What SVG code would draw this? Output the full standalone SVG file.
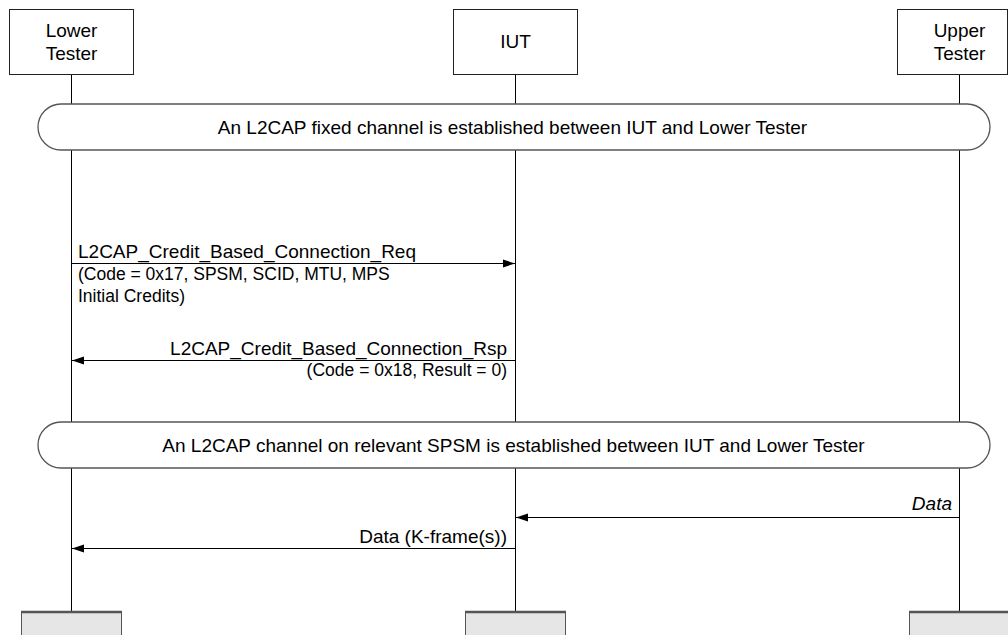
<svg xmlns="http://www.w3.org/2000/svg" width="1008" height="635" viewBox="0 0 1008 635">
<style>
text{font-family:"Liberation Sans",Arial,sans-serif;fill:#000}
.box{fill:#fff;stroke:#222;stroke-width:1}
.lbl{font-size:19px;text-anchor:middle}
.life{stroke:#000;stroke-width:1;fill:none}
.banner{fill:#fff;stroke:#555;stroke-width:1.3}
.btxt{font-size:19px;text-anchor:middle}
.msg{stroke:#000;stroke-width:1;fill:none;marker-end:url(#ah)}
.m{font-size:19px}
.s{font-size:17.5px}
.end{text-anchor:end}
.foot{fill:#e6e6e6;stroke:#555;stroke-width:1}
.foottop{stroke:#555;stroke-width:2.5}
</style>
<defs>
<marker id="ah" viewBox="0 0 12 10" refX="12" refY="5" markerWidth="12" markerHeight="10" markerUnits="userSpaceOnUse" orient="auto">
<path d="M0,1 L12,5 L0,9 Z" fill="#000"/>
</marker>
</defs>
<g id="lifelines">
<line class="life" x1="71.5" y1="74" x2="71.5" y2="612"/>
<line class="life" x1="515.5" y1="74" x2="515.5" y2="612"/>
<line class="life" x1="959.5" y1="74" x2="959.5" y2="612"/>
</g>
<g id="lower-tester">
<rect class="box" x="9.5" y="9.5" width="124" height="65"/>
<text class="lbl" x="71.5" y="37">Lower</text>
<text class="lbl" x="71.5" y="60">Tester</text>
</g>
<g id="iut">
<rect class="box" x="453.5" y="9.5" width="124" height="65"/>
<text class="lbl" x="515.5" y="48">IUT</text>
</g>
<g id="upper-tester">
<rect class="box" x="897.5" y="9.5" width="110" height="65"/>
<text class="lbl" x="959.5" y="37">Upper</text>
<text class="lbl" x="959.5" y="60">Tester</text>
</g>
<g id="banner-fixed">
<rect class="banner" x="38" y="104" width="952" height="46" rx="23" ry="23"/>
<text class="btxt" x="512.5" y="134">An L2CAP fixed channel is established between IUT and Lower Tester</text>
</g>
<g id="banner-spsm">
<rect class="banner" x="38" y="422" width="952" height="46" rx="23" ry="23"/>
<text class="btxt" x="513.5" y="452">An L2CAP channel on relevant SPSM is established between IUT and Lower Tester</text>
</g>
<g id="connectors">
<line class="msg" x1="71.5" y1="263.5" x2="515" y2="263.5"/>
<line class="msg" x1="515.5" y1="360.5" x2="72" y2="360.5"/>
<line class="msg" x1="959.5" y1="517.5" x2="516" y2="517.5"/>
<line class="msg" x1="515.5" y1="548.5" x2="72" y2="548.5"/>
</g>
<g id="labels">
<text class="m" x="78" y="258">L2CAP_Credit_Based_Connection_Req</text>
<text class="s" x="78" y="280">(Code = 0x17, SPSM, SCID, MTU, MPS</text>
<text class="s" x="78" y="302">Initial Credits)</text>
<text class="m end" x="507" y="355">L2CAP_Credit_Based_Connection_Rsp</text>
<text class="s end" x="507" y="376">(Code = 0x18, Result = 0)</text>
<text class="m end" x="952" y="510" font-style="italic">Data</text>
<text class="m end" x="507" y="543">Data (K-frame(s))</text>
</g>
<g id="footers">
<rect class="foot" x="21.5" y="612" width="100" height="30"/>
<line class="foottop" x1="21" y1="612" x2="122" y2="612"/>
<rect class="foot" x="465.5" y="612" width="100" height="30"/>
<line class="foottop" x1="465" y1="612" x2="566" y2="612"/>
<rect class="foot" x="909.5" y="612" width="100" height="30"/>
<line class="foottop" x1="909" y1="612" x2="1010" y2="612"/>
</g>
</svg>
